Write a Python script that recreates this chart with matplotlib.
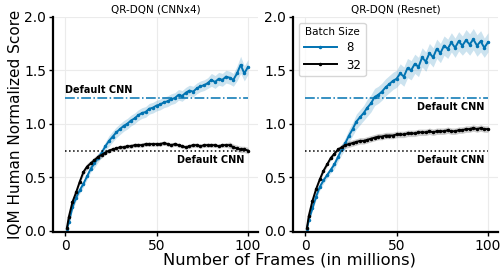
import numpy as np
import matplotlib
matplotlib.use("Agg")
import matplotlib.pyplot as plt

# frames (millions) at which the IQM was evaluated
frames = [1] + list(range(2, 101, 2))

# QR-DQN (CNNx4)
cnn_b8 = [0.02, 0.08, 0.22, 0.31, 0.38, 0.44, 0.51, 0.58, 0.63, 0.68, 0.73,
          0.79, 0.84, 0.88, 0.92, 0.95, 0.98, 1.00, 1.03, 1.05, 1.08,
          1.10, 1.11, 1.14, 1.15, 1.17, 1.18, 1.20, 1.21, 1.23, 1.24,
          1.27, 1.26, 1.29, 1.31, 1.30, 1.33, 1.35, 1.36, 1.38, 1.41,
          1.39, 1.42, 1.41, 1.44, 1.43, 1.41, 1.47, 1.55, 1.47, 1.53]
cnn_b8_ci = [0.01, 0.02, 0.03, 0.03, 0.03, 0.03, 0.03, 0.03, 0.04, 0.04, 0.04,
             0.04, 0.05, 0.05, 0.05, 0.05, 0.05, 0.05, 0.05, 0.05, 0.05,
             0.05, 0.05, 0.05, 0.05, 0.05, 0.05, 0.05, 0.05, 0.05, 0.05,
             0.05, 0.05, 0.05, 0.05, 0.05, 0.05, 0.05, 0.05, 0.05, 0.06,
             0.06, 0.06, 0.06, 0.06, 0.06, 0.06, 0.07, 0.08, 0.07, 0.07]
cnn_b32 = [0.03, 0.13, 0.27, 0.36, 0.46, 0.55, 0.60, 0.63, 0.66, 0.69, 0.71,
           0.73, 0.75, 0.76, 0.77, 0.78, 0.78, 0.79, 0.79, 0.80, 0.80,
           0.80, 0.81, 0.81, 0.81, 0.81, 0.81, 0.82, 0.81, 0.80, 0.81,
           0.80, 0.79, 0.78, 0.79, 0.80, 0.80, 0.79, 0.80, 0.80, 0.80,
           0.80, 0.79, 0.80, 0.80, 0.80, 0.78, 0.77, 0.76, 0.76, 0.75]
cnn_b32_ci = [0.01, 0.02, 0.02, 0.02, 0.02, 0.03, 0.03, 0.03, 0.03, 0.03, 0.03,
              0.02, 0.02, 0.02, 0.02, 0.02, 0.02, 0.02, 0.02, 0.02, 0.02,
              0.02, 0.02, 0.02, 0.02, 0.02, 0.02, 0.02, 0.02, 0.02, 0.02,
              0.02, 0.02, 0.02, 0.02, 0.02, 0.02, 0.02, 0.02, 0.02, 0.02,
              0.02, 0.02, 0.02, 0.02, 0.03, 0.03, 0.03, 0.03, 0.03, 0.03]

# QR-DQN (Resnet)
res_b8 = [0.02, 0.10, 0.21, 0.32, 0.41, 0.47, 0.52, 0.57, 0.62, 0.69, 0.76,
          0.82, 0.89, 0.95, 1.02, 1.06, 1.10, 1.15, 1.19, 1.25, 1.27,
          1.30, 1.34, 1.37, 1.40, 1.42, 1.47, 1.44, 1.52, 1.50, 1.56,
          1.53, 1.62, 1.58, 1.66, 1.62, 1.70, 1.66, 1.73, 1.70, 1.76,
          1.71, 1.77, 1.73, 1.78, 1.74, 1.79, 1.73, 1.77, 1.71, 1.76]
res_b8_ci = [0.01, 0.02, 0.02, 0.03, 0.03, 0.03, 0.03, 0.03, 0.04, 0.04, 0.05,
             0.05, 0.06, 0.06, 0.07, 0.07, 0.07, 0.08, 0.08, 0.08, 0.08,
             0.08, 0.08, 0.08, 0.08, 0.08, 0.09, 0.09, 0.09, 0.09, 0.09,
             0.09, 0.09, 0.09, 0.09, 0.09, 0.09, 0.09, 0.09, 0.09, 0.09,
             0.09, 0.09, 0.09, 0.10, 0.10, 0.10, 0.10, 0.10, 0.09, 0.09]
res_b32 = [0.03, 0.14, 0.28, 0.39, 0.48, 0.56, 0.62, 0.68, 0.72, 0.76, 0.78,
           0.80, 0.81, 0.82, 0.83, 0.84, 0.84, 0.85, 0.86, 0.87, 0.88,
           0.88, 0.89, 0.89, 0.89, 0.90, 0.90, 0.90, 0.91, 0.91, 0.91,
           0.92, 0.92, 0.92, 0.93, 0.92, 0.93, 0.93, 0.93, 0.94, 0.93,
           0.93, 0.94, 0.94, 0.95, 0.95, 0.96, 0.95, 0.96, 0.95, 0.95]
res_b32_ci = [0.01, 0.02, 0.02, 0.02, 0.02, 0.02, 0.02, 0.02, 0.02, 0.02, 0.03,
              0.03, 0.03, 0.03, 0.03, 0.03, 0.03, 0.03, 0.03, 0.03, 0.03,
              0.03, 0.03, 0.03, 0.03, 0.03, 0.03, 0.03, 0.03, 0.03, 0.03,
              0.03, 0.03, 0.03, 0.03, 0.03, 0.03, 0.03, 0.03, 0.03, 0.03,
              0.03, 0.03, 0.03, 0.03, 0.03, 0.03, 0.03, 0.03, 0.03, 0.03]

titles = ["QR-DQN (CNNx4)", "QR-DQN (Resnet)"]
batch_labels = ["8", "32"]
default_b8 = 1.24   # Default CNN, batch 8
default_b32 = 0.75  # Default CNN, batch 32

BLUE = "#0173b2"
BLACK = "black"

fig = plt.figure(figsize=(5.01, 2.69), dpi=100)
ax1 = fig.add_axes([0.106, 0.138, 0.409, 0.80])
ax2 = fig.add_axes([0.585, 0.138, 0.409, 0.80])

panels = [
    (ax1, cnn_b8, cnn_b8_ci, cnn_b32, cnn_b32_ci),
    (ax2, res_b8, res_b8_ci, res_b32, res_b32_ci),
]

x = np.array(frames)
for i, (ax, b8, b8ci, b32, b32ci) in enumerate(panels):
    b8 = np.array(b8); b8ci = np.array(b8ci)
    b32 = np.array(b32); b32ci = np.array(b32ci)
    ax.fill_between(x, b8 - b8ci, b8 + b8ci, color=BLUE, alpha=0.2, lw=0)
    ax.fill_between(x, b32 - b32ci, b32 + b32ci, color=BLACK, alpha=0.2, lw=0)
    ax.plot(x, b8, color=BLUE, lw=1.4, marker='.', ms=3, label=batch_labels[0])
    ax.plot(x, b32, color=BLACK, lw=1.4, marker='.', ms=3, label=batch_labels[1])

    ax.axhline(default_b8, xmin=0.06, xmax=0.95, color=BLUE, ls='-.', lw=1.1)
    ax.axhline(default_b32, xmin=0.06, xmax=0.95, color=BLACK, ls=':', lw=1.1)

    if i == 0:
        ax.text(0, default_b8 + 0.03, "Default CNN", fontsize=7, fontweight='bold',
                ha='left', va='bottom')
    else:
        ax.text(98, default_b8 - 0.04, "Default CNN", fontsize=7, fontweight='bold',
                ha='right', va='top')
    ax.text(98, default_b32 - 0.04, "Default CNN", fontsize=7, fontweight='bold',
            ha='right', va='top')

    ax.set_xlim(-6.6, 105.5)
    ax.set_ylim(-0.01, 2.0)
    ax.set_xticks([0, 50, 100])
    ax.set_yticks([0.0, 0.5, 1.0, 1.5, 2.0])
    ax.set_yticklabels(["0.0", "0.5", "1.0", "1.5", "2.0"])
    ax.tick_params(labelsize=10, length=3, width=1, pad=2)
    ax.grid(True, color="#ebebeb", lw=0.8)
    ax.set_axisbelow(True)
    for s in ["top", "right"]:
        ax.spines[s].set_visible(False)
    for s in ["left", "bottom"]:
        ax.spines[s].set_linewidth(1.6)
    ax.set_title(titles[i], fontsize=7.5, pad=3)

ax1.set_ylabel("IQM Human Normalized Score", fontsize=11, labelpad=1)
fig.text(0.578, 0.004, "Number of Frames (in millions)", fontsize=11.8,
         ha='center', va='bottom')

leg = ax2.legend(title="Batch Size", loc="upper left", fontsize=8.5, title_fontsize=7.5,
                 handlelength=2.8, borderpad=0.4, labelspacing=0.35,
                 bbox_to_anchor=(0.0, 1.0))

fig.savefig("out.png", dpi=100)
